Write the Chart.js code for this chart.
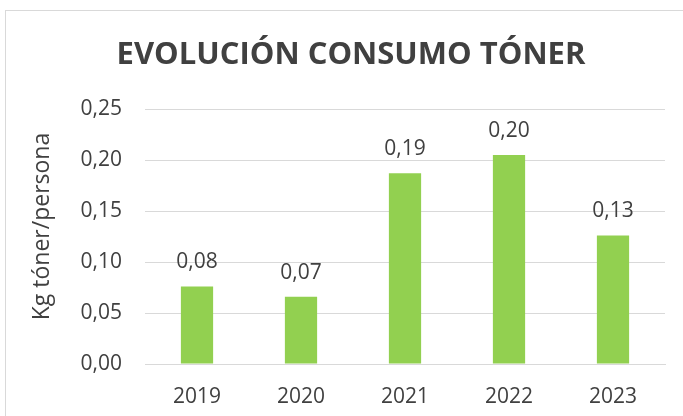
<!DOCTYPE html>
<html>
<head>
<meta charset="utf-8">
<script src="https://cdn.jsdelivr.net/npm/chart.js@4"></script>
<style>
    body { margin: 0; background: #fff; }
    #wrap { position: relative; width: 683px; height: 416px; overflow: hidden; }
    #frame { position: absolute; left: 5px; top: 10px; width: 720px; height: 440px; border: 1px solid #d9d9d9; }
    canvas { position: absolute; left: 0; top: 0; }
</style>
</head>
<body>
<div id="wrap">
    <div id="frame"></div>
    <canvas id="myChart" width="683" height="416"></canvas>
</div>
<script>
const years = ['2019', '2020', '2021', '2022', '2023'];
const tonerKg = [0.076, 0.066, 0.187, 0.205, 0.126];
const yTicks = [0, 0.05, 0.10, 0.15, 0.20, 0.25];
const yTitle = 'Kg tóner/persona';

const fmt = v => v.toFixed(2).replace('.', ',');
const textColor = '#404040';
const fontFamily = "'Open Sans', sans-serif";

// value labels above each bar
const barLabels = {
    id: 'barLabels',
    afterDatasetsDraw(chart) {
        const ctx = chart.ctx;
        const meta = chart.getDatasetMeta(0);
        ctx.save();
        ctx.font = '21px ' + fontFamily;
        ctx.fillStyle = textColor;
        ctx.textAlign = 'center';
        ctx.textBaseline = 'alphabetic';
        meta.data.forEach(function(bar, i){
            ctx.fillText(fmt(tonerKg[i]), bar.x, bar.y - 18);
        });
        ctx.restore();
    }
};

// y axis title, a bit above the middle of the plot like in excel
const sideTitle = {
    id: 'sideTitle',
    afterDraw(chart) {
        const ctx = chart.ctx;
        const area = chart.chartArea;
        ctx.save();
        ctx.translate(42, (area.top + area.bottom) / 2 - 10);
        ctx.rotate(-Math.PI / 2);
        ctx.font = '23px ' + fontFamily;
        ctx.fillStyle = textColor;
        ctx.textAlign = 'center';
        ctx.textBaseline = 'middle';
        ctx.fillText(yTitle, 0, 0);
        ctx.restore();
    }
};

new Chart(document.getElementById('myChart').getContext('2d'), {
    type: 'bar',
    data: {
        labels: years,
        datasets: [{
            data: tonerKg,
            backgroundColor: '#92d050',
            borderWidth: 0,
            categoryPercentage: 1,
            barPercentage: 0.31,
        }],
    },
    options: {
        responsive: false,
        animation: false,
        layout: { padding: { left: 37, right: 18, top: 0, bottom: 0 } },
        plugins: {
            legend: { display: false },
            tooltip: { enabled: false },
            title: {
                display: true,
                text: 'EVOLUCIÓN CONSUMO TÓNER',
                color: textColor,
                font: { family: fontFamily, size: 31, weight: 'bold' },
                padding: { top: 37, bottom: 34.8 },
            },
        },
        scales: {
            x: {
                grid: { display: false },
                border: { color: '#d9d9d9' },
                ticks: {
                    color: textColor,
                    font: { family: fontFamily, size: 21 },
                    padding: 12,
                },
                afterFit: function(scale){ scale.height = 52; },
            },
            y: {
                min: 0,
                max: 0.25,
                afterBuildTicks: function(scale){
                    scale.ticks = yTicks.map(v => ({ value: v }));
                },
                grid: { color: '#d9d9d9', lineWidth: 1, drawTicks: false },
                border: { display: false },
                ticks: {
                    color: textColor,
                    font: { family: fontFamily, size: 21 },
                    padding: 23,
                    callback: v => fmt(v),
                },
                afterFit: function(scale){ scale.width = 108; },
            },
        },
    },
    plugins: [barLabels, sideTitle],
});
</script>
</body>
</html>
